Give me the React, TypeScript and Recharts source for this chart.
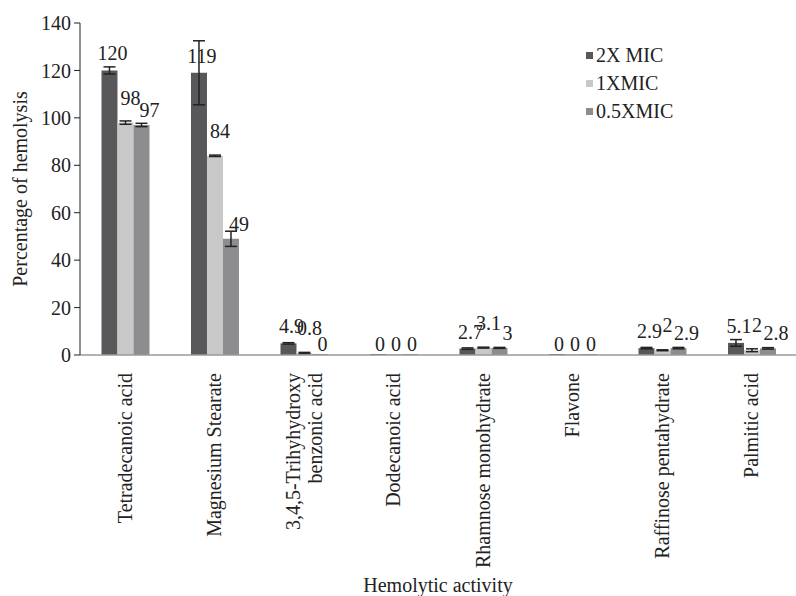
import React from "react";
import {
  BarChart,
  Bar,
  XAxis,
  YAxis,
  ErrorBar,
  LabelList,
  Legend,
} from "recharts";

const FONT = '"Liberation Serif", "Times New Roman", serif';
const INK = "#222";

const categories = [
  "Tetradecanoic acid",
  "Magnesium Stearate",
  "3,4,5-Trihyhydroxy\nbenzonic acid",
  "Dodecanoic acid",
  "Rhamnose monohydrate",
  "Flavone",
  "Raffinose pentahydrate",
  "Palmitic acid",
];

const mic2x = [120, 119, 4.9, 0, 2.7, 0, 2.9, 5.1];
const mic1x = [98, 84, 0.8, 0, 3.1, 0, 2, 2];
const mic05x = [97, 49, 0, 0, 3, 0, 2.9, 2.8];

const err2x = [1.5, 13.5, 0.3, 0, 0.3, 0, 0.3, 1.4];
const err1x = [0.7, 0.3, 0.3, 0, 0.2, 0, 0.2, 0.6];
const err05x = [0.7, 3.2, 0, 0, 0.2, 0, 0.3, 0.3];

const yTicks = [0, 20, 40, 60, 80, 100, 120, 140];

// label nudges mimic the hand-placed labels of the original figure
const SERIES = [
  { key: "mic2x", err: "err2x", name: "2X MIC", color: "#58585a", dx: 3, lift: 10 },
  { key: "mic1x", err: "err1x", name: "1XMIC", color: "#c8c8c8", dx: 5, lift: 18 },
  { key: "mic05x", err: "err05x", name: "0.5XMIC", color: "#8d8d8f", dx: 8, lift: 8 },
];

const data = categories.map((name, i) => ({
  name,
  mic2x: mic2x[i],
  mic1x: mic1x[i],
  mic05x: mic05x[i],
  err2x: err2x[i],
  err1x: err1x[i],
  err05x: err05x[i],
}));

// rotated category labels, split on "\n" for the two-line one
function CategoryTick({ x, y, payload }: any) {
  const lines: string[] = String(payload.value).split("\n");
  const first = 0.35 - (lines.length - 1) * 0.55;
  return (
    <g transform={`translate(${x},${y})`}>
      <text
        transform="rotate(-90)"
        textAnchor="end"
        style={{ fontFamily: FONT }}
        fontSize={20}
        fill={INK}
      >
        {lines.map((l, i) => (
          <tspan key={i} x={-10} dy={i === 0 ? `${first}em` : "1.1em"}>
            {l}
          </tspan>
        ))}
      </text>
    </g>
  );
}

function LegendBox() {
  return (
    <div style={{ fontFamily: FONT, fontSize: 20, color: INK }}>
      {SERIES.map((s) => (
        <div
          key={s.key}
          style={{ display: "flex", alignItems: "center", height: 28 }}
        >
          <span
            style={{
              width: 7,
              height: 7,
              background: s.color,
              marginRight: 3,
              display: "inline-block",
            }}
          />
          {s.name}
        </div>
      ))}
    </div>
  );
}

const valueLabel = (dx: number, lift: number) => (p: any) => {
  const zero = Number(p.value) === 0;
  return (
    <text
      x={Number(p.x) + Number(p.width) / 2 + (zero ? 2 : dx)}
      y={Number(p.y) - (zero ? 3 : lift)}
      textAnchor="middle"
      style={{ fontFamily: FONT }}
      fontSize={20}
      fill={INK}
    >
      {p.value}
    </text>
  );
};

export default function App() {
  return (
    <div
      style={{
        position: "absolute",
        left: 0,
        top: 0,
        background: "#fff",
        fontFamily: FONT,
      }}
    >
      <BarChart
        width={796}
        height={596}
        data={data}
        margin={{ top: 23, right: 0, left: 0, bottom: 0 }}
        barCategoryGap="24%"
        barGap={0}
        style={{ fontFamily: FONT }}
      >
        <XAxis
          dataKey="name"
          interval={0}
          height={241}
          tickLine={false}
          axisLine={{ stroke: "#9a9a9a", strokeWidth: 1.5 }}
          tick={<CategoryTick />}
          label={{
            value: "Hemolytic activity",
            position: "insideBottom",
            offset: 4,
            style: { fontFamily: FONT, fontSize: 20, fill: INK },
          }}
        />
        <YAxis
          width={80}
          domain={[0, 140]}
          ticks={yTicks}
          tickSize={6}
          tickMargin={3}
          axisLine={{ stroke: INK }}
          tickLine={{ stroke: INK }}
          tick={{ fontSize: 20, fill: INK, style: { fontFamily: FONT } }}
          label={{
            value: "Percentage of hemolysis",
            angle: -90,
            position: "insideLeft",
            offset: 20,
            style: {
              fontFamily: FONT,
              fontSize: 20,
              fill: INK,
              textAnchor: "middle",
            },
          }}
        />
        <Legend
          layout="horizontal"
          align="center"
          verticalAlign="middle"
          content={<LegendBox />}
          wrapperStyle={{ top: 41, left: 586, width: 120, height: 90 }}
        />
        {SERIES.map((s) => (
          <Bar
            key={s.key}
            dataKey={s.key}
            name={s.name}
            fill={s.color}
            minPointSize={1}
            isAnimationActive={false}
          >
            <ErrorBar
              dataKey={s.err}
              direction="y"
              width={6}
              stroke={INK}
              strokeWidth={1.5}
            />
            <LabelList dataKey={s.key} content={valueLabel(s.dx, s.lift)} />
          </Bar>
        ))}
      </BarChart>
    </div>
  );
}
